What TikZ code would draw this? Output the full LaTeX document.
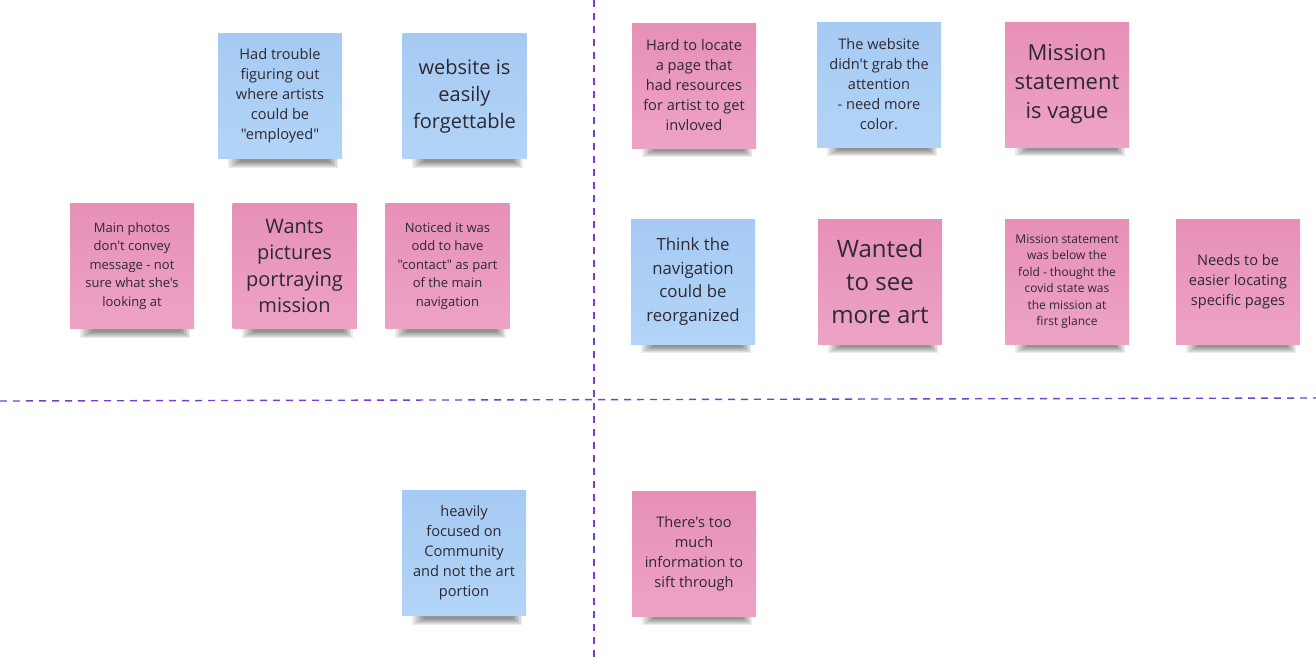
\documentclass[tikz,border=0pt]{standalone}
\usepackage{fontspec}
\setmainfont{Open Sans}[Ligatures=TeXOff]
\usetikzlibrary{backgrounds}

\definecolor{noteblue}{RGB}{166,202,243}
\definecolor{noteblueb}{RGB}{178,212,247}
\definecolor{notepink}{RGB}{231,144,183}
\definecolor{notepinkb}{RGB}{237,163,197}
\definecolor{notetext}{RGB}{45,40,50}
\definecolor{divider}{RGB}{120,62,205}

\tikzset{
  note/.style={minimum width=124pt, minimum height=125pt, inner sep=0pt,
    align=center, text=notetext},
  bluenote/.style={note, top color=noteblue, bottom color=noteblueb},
  pinknote/.style={note, top color=notepink, bottom color=notepinkb},
  divline/.style={divider, line width=1.4pt, dash pattern=on 7pt off 6pt}
}

\begin{document}
\begin{tikzpicture}[x=1pt, y=-1pt]
  \useasboundingbox (0,0) rectangle (1316,659);

  % dividing lines
  \draw[divline] (594,0) -- (594,659);
  \draw[divline] (0,401) -- (1316,398);

  % top left
  \node[bluenote, font=\fontsize{14.6}{20}\selectfont] (trouble) at (280,96)
    {Had trouble\\figuring out\\where artists\\could be\\"employed"};
  \node[bluenote, font=\fontsize{20}{27}\selectfont] (forget) at (464.5,96)
    {website is\\easily\\forgettable};
  \node[pinknote, font=\fontsize{13}{18.5}\selectfont] (photos) at (132,266)
    {Main photos\\don't convey\\message - not\\sure what she's\\looking at};
  \node[pinknote, font=\fontsize{20}{26.5}\selectfont] (pictures) at (294.5,266)
    {Wants\\pictures\\portraying\\mission};
  \node[pinknote, font=\fontsize{13}{18.5}\selectfont] (contact) at (447.5,266)
    {Noticed it was\\odd to have\\"contact" as part\\of the main\\navigation};

  % top right
  \node[pinknote, font=\fontsize{14.6}{20}\selectfont] (locate) at (694,85.5)
    {Hard to locate\\a page that\\had resources\\for artist to get\\invloved};
  \node[bluenote, font=\fontsize{14.6}{20}\selectfont] (grab) at (879,84.5)
    {The website\\didn't grab the\\attention\\- need more\\color.};
  \node[pinknote, font=\fontsize{22}{29}\selectfont] (vague) at (1067,84.5)
    {Mission\\statement\\is vague};
  \node[bluenote, font=\fontsize{16.8}{23.5}\selectfont] (reorg) at (693,281.5)
    {Think the\\navigation\\could be\\reorganized};
  \node[pinknote, font=\fontsize{24}{33}\selectfont] (moreart) at (880,281.5)
    {Wanted\\to see\\more art};
  \node[pinknote, font=\fontsize{12}{16.5}\selectfont] (fold) at (1067,281.5)
    {Mission statement\\was below the\\fold - thought the\\covid state was\\the mission at\\first glance};
  \node[pinknote, font=\fontsize{14.6}{20}\selectfont] (easier) at (1238,281.5)
    {Needs to be\\easier locating\\specific pages};

  % bottom
  \node[bluenote, font=\fontsize{14.6}{20}\selectfont] (community) at (464,553)
    {heavily\\focused on\\Community\\and not the art\\portion};
  \node[pinknote, font=\fontsize{14.6}{20}\selectfont] (toomuch) at (694,553.5)
    {There's too\\much\\information to\\sift through};

  % white page and soft shadows under the notes
  \begin{scope}[on background layer]
    \fill[white] (0,0) rectangle (1316,659);
    \foreach \n in {trouble,forget,photos,pictures,contact,locate,grab,vague,
                    reorg,moreart,fold,easier,community,toomuch}
      \foreach \k in {0,...,6}
        \fill[black, opacity=0.075]
          ([xshift=10pt+2*\k pt, yshift=5pt]\n.south west)
          rectangle ([xshift=-4pt-1.5*\k pt, yshift=-9pt+\k pt]\n.south east);
  \end{scope}
\end{tikzpicture}
\end{document}
